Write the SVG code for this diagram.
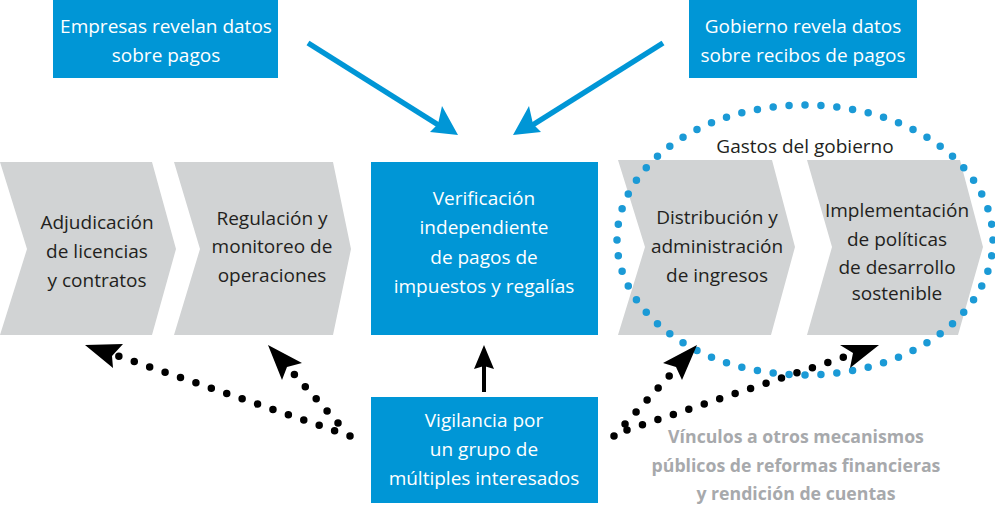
<svg xmlns="http://www.w3.org/2000/svg" width="995" height="506" viewBox="0 0 995 506">
<style>
.chev{fill:#D1D3D4}
.box{fill:#0096D6}
.t{font-family:"Open Sans","Noto Sans",sans-serif;font-size:19px;text-anchor:middle}
.dk{fill:#231F20}
.wh{fill:#FFFFFF}
.gr{font-family:"Open Sans","Noto Sans",sans-serif;font-size:17.7px;font-weight:bold;fill:#A7A9AC;text-anchor:middle}
.dots{fill:none;stroke:#000;stroke-width:7.5;stroke-linecap:round;stroke-dasharray:0 16.3}
.bdots{fill:none;stroke:#1B9AD6;stroke-width:7.5;stroke-linecap:round}
.ah{fill:#000}
.bl{stroke:#0096D6;stroke-width:5.5;fill:none}
.bh{fill:#0096D6}
</style>
<g id="empresas">
<rect class="box" x="53" y="0" width="225" height="78"/>
<text class="t wh" x="166" y="33">Empresas revelan datos</text>
<text class="t wh" x="166" y="62">sobre pagos</text>
</g>
<g id="gobierno">
<rect class="box" x="689" y="0" width="228" height="78"/>
<text class="t wh" x="803" y="33">Gobierno revela datos</text>
<text class="t wh" x="803" y="62">sobre recibos de pagos</text>
</g>
<g id="adjudicacion">
<polygon class="chev" points="0,162 152,162 176,249 152,335 0,335 27,249"/>
<text class="t dk" x="97" y="229">Adjudicación</text>
<text class="t dk" x="97" y="258">de licencias</text>
<text class="t dk" x="97" y="287">y contratos</text>
</g>
<g id="regulacion">
<polygon class="chev" points="174,162 333,162 351,249 333,335 174,335 200,249"/>
<text class="t dk" x="272" y="225">Regulación y</text>
<text class="t dk" x="272" y="253">monitoreo de</text>
<text class="t dk" x="272" y="282">operaciones</text>
</g>
<g id="verificacion">
<rect class="box" x="371" y="162" width="227" height="173"/>
<text class="t wh" x="484" y="205">Verificación</text>
<text class="t wh" x="484" y="234">independiente</text>
<text class="t wh" x="484" y="264">de pagos de</text>
<text class="t wh" x="484" y="293">impuestos y regalías</text>
</g>
<g id="distribucion">
<polygon class="chev" points="618,160 772,160 795,247 771,335 618,335 645,247"/>
<text class="t dk" x="717" y="224">Distribución y</text>
<text class="t dk" x="717" y="253">administración</text>
<text class="t dk" x="717" y="282">de ingresos</text>
</g>
<g id="implementacion">
<polygon class="chev" points="807,160 960,160 983,247 958,335 807,335 832,247"/>
<text class="t dk" x="897" y="217">Implementación</text>
<text class="t dk" x="897" y="246">de políticas</text>
<text class="t dk" x="897" y="274">de desarrollo</text>
<text class="t dk" x="897" y="300">sostenible</text>
</g>
<g id="vigilancia">
<rect class="box" x="371" y="397" width="227" height="106"/>
<text class="t wh" x="484" y="427">Vigilancia por</text>
<text class="t wh" x="484" y="456">un grupo de</text>
<text class="t wh" x="484" y="485">múltiples interesados</text>
</g>
<g id="gastos">
<ellipse class="bdots" cx="805" cy="240" rx="188" ry="135" pathLength="64" stroke-dasharray="0 1"/>
<text class="t dk" x="805" y="153">Gastos del gobierno</text>
</g>
<g id="vinculos">
<text class="gr" x="796" y="443">Vínculos a otros mecanismos</text>
<text class="gr" x="796" y="472">públicos de reformas financieras</text>
<text class="gr" x="796" y="500">y rendición de cuentas</text>
</g>
<g id="connectors">
<line class="bl" x1="308" y1="43" x2="440" y2="126"/>
<polygon class="bh" points="458,135 430,132 438,124 442,106"/>
<line class="bl" x1="663" y1="43" x2="531" y2="126"/>
<polygon class="bh" points="513,135 541,132 533,124 529,106"/>
<line x1="484" y1="392" x2="484" y2="365" stroke="#000" stroke-width="4"/>
<polygon class="ah" points="484,345 494,369 484,366 474,369"/>
<line class="dots" x1="350" y1="436" x2="118" y2="356"/>
<polygon class="ah" points="85,345 123,344 112,356 113,368"/>
<line class="dots" x1="338" y1="423" x2="293" y2="373"/>
<polygon class="ah" points="268,345 302,363 287,367 282,380"/>
<line class="dots" x1="614" y1="436" x2="672" y2="373"/>
<polygon class="ah" points="697,345 682,380 676,367 663,363"/>
<line class="dots" x1="627" y1="430" x2="847" y2="356"/>
<polygon class="ah" points="879,345 850,368 853,353 840,345"/>
</g>
</svg>
